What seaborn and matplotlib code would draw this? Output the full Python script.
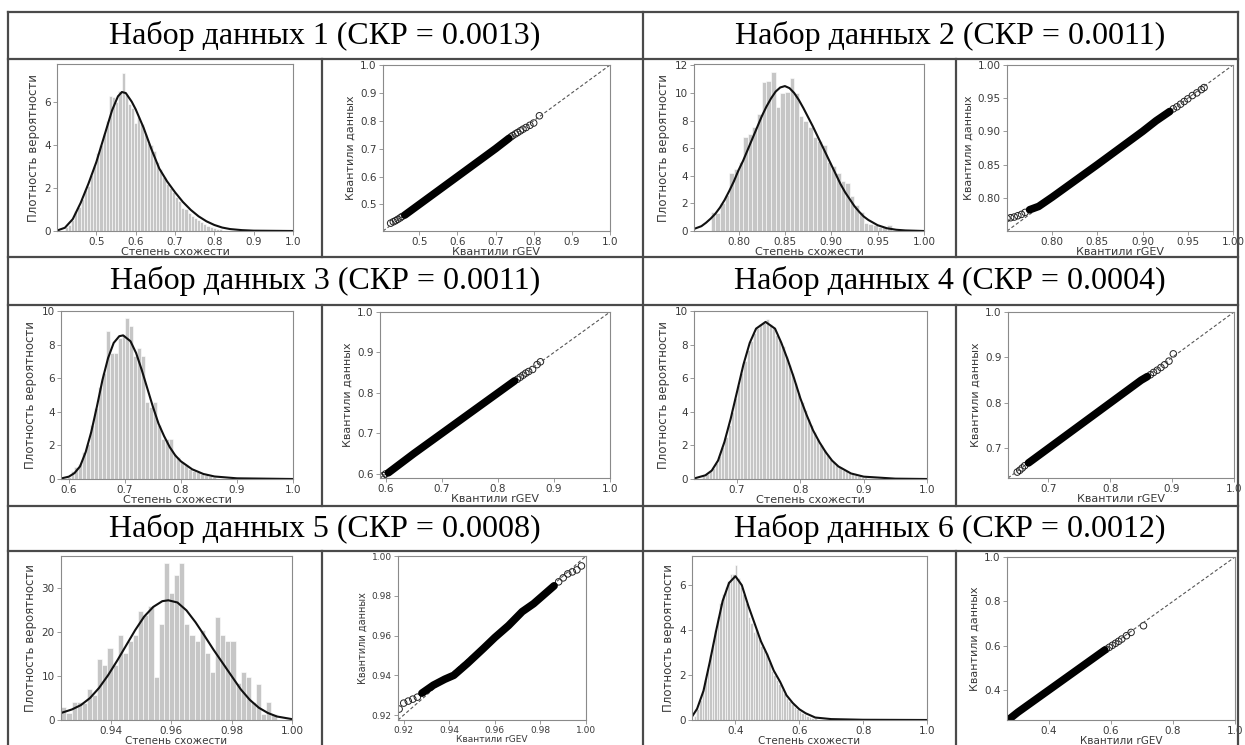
import numpy as np
import pandas as pd
import matplotlib
matplotlib.use("Agg")
import matplotlib.pyplot as plt
from matplotlib.lines import Line2D
import seaborn as sns

W, H = 1245, 745

# --- header texts ---
titles = ["Набор данных 1 (СКР = 0.0013)", "Набор данных 2 (СКР = 0.0011)",
          "Набор данных 3 (СКР = 0.0011)", "Набор данных 4 (СКР = 0.0004)",
          "Набор данных 5 (СКР = 0.0008)", "Набор данных 6 (СКР = 0.0012)"]

# --- histograms: first bin edge, bin width, bar heights ---
h1_start, h1_width = 0.42, 0.008
h1_heights = [0.2, 0.3, 0.5, 0.95, 1.1, 1.5, 1.9, 2.1, 2.6, 3.0, 3.6, 4.0, 4.5, 5.1, 6.25,
              6.2, 6.0, 6.5, 7.35, 6.3, 5.9, 5.7, 5.0, 5.3, 4.95, 4.5, 4.1, 4.0, 3.7, 3.2,
              2.9, 2.5, 2.2, 2.0, 1.8, 1.6, 1.4, 1.05, 1.0, 0.85, 0.7, 0.6, 0.5, 0.4, 0.33,
              0.25, 0.2, 0.15, 0.1, 0.08]
h2_start, h2_width = 0.770, 0.005
h2_heights = [1.4, 1.3, 2.0, 2.6, 4.2, 4.5, 5.0, 6.8, 7.0, 7.5, 8.5, 10.8, 10.9, 11.5, 9.0,
              10.0, 10.1, 11.1, 10.0, 8.3, 8.0, 7.5, 6.8, 6.5, 6.2, 5.0, 4.7, 4.2, 3.6, 3.5,
              2.5, 1.9, 1.4, 0.6, 0.5, 0.4, 0.3, 0.3, 0.45, 0.1]
h3_start, h3_width = 0.596, 0.007
h3_heights = [0.1, 0.5, 0.7, 0.9, 1.6, 2.1, 3.2, 4.2, 5.5, 6.3, 8.8, 7.5, 7.5, 8.4, 8.6,
              9.6, 9.1, 7.3, 7.8, 7.3, 4.6, 4.3, 4.6, 3.2, 2.4, 2.4, 2.4, 1.5, 1.3, 1.0,
              0.85, 0.6, 0.5, 0.4, 0.3, 0.25, 0.2, 0.1]
h4_start, h4_width = 0.645, 0.005
h4_heights = [0.2, 0.3, 0.45, 0.65, 0.95, 1.35, 1.9, 2.5, 3.2, 4.0, 4.8, 5.6, 6.3, 7.0, 7.7,
              8.2, 8.7, 9.0, 9.25, 9.3, 9.5, 9.2, 9.0, 8.6, 8.3, 7.9, 7.3, 6.8, 6.3, 5.7,
              5.1, 4.6, 4.1, 3.6, 3.2, 2.8, 2.4, 2.0, 1.75, 1.45, 1.2, 1.0, 0.85, 0.7, 0.55,
              0.45, 0.35, 0.3, 0.25, 0.18, 0.14, 0.1, 0.08, 0.05, 0.04]
h5_start, h5_width = 0.9235, 0.0017
h5_heights = [2.9, 1.7, 4.2, 4.2, 3.8, 7.0, 5.8, 13.8, 12.5, 16.5, 12.6, 19.3, 15.3, 18.0,
              19.3, 24.8, 24.0, 26.0, 9.8, 22.0, 35.8, 29.0, 33.0, 35.8, 22.0, 19.3, 18.0,
              20.6, 15.2, 11.0, 23.4, 19.3, 18.0, 18.0, 8.5, 11.0, 9.7, 4.2, 8.3, 1.4, 4.2,
              1.4]
h6_start, h6_width = 0.270, 0.008
h6_heights = [0.2, 0.5, 0.9, 1.3, 1.8, 2.3, 2.9, 3.4, 4.0, 4.6, 5.2, 5.6, 5.9, 6.2, 6.5,
              6.5, 6.9, 6.3, 5.9, 5.6, 5.2, 4.6, 4.3, 3.9, 4.0, 3.6, 3.3, 3.1, 3.0, 2.6,
              2.2, 2.0, 1.8, 1.6, 1.4, 1.2, 1.0, 0.85, 0.7, 0.6, 0.5, 0.4, 0.3, 0.25, 0.2,
              0.15, 0.1, 0.08]

# --- fitted rGEV density curves ---
c1_x = [0.40, 0.42, 0.44, 0.46, 0.48, 0.50, 0.52, 0.54, 0.555, 0.565, 0.575, 0.59, 0.60, 0.62,
        0.64, 0.66, 0.68, 0.70, 0.72, 0.74, 0.76, 0.78, 0.80, 0.82, 0.84, 0.87, 0.90, 1.00]
c1_y = [0.02, 0.15, 0.55, 1.3, 2.2, 3.2, 4.4, 5.6, 6.25, 6.45, 6.4, 6.0, 5.65, 4.8, 3.8, 2.9,
        2.3, 1.8, 1.35, 0.98, 0.68, 0.45, 0.28, 0.16, 0.09, 0.04, 0.015, 0.0]
c2_x = [0.752, 0.76, 0.765, 0.77, 0.775, 0.78, 0.785, 0.79, 0.795, 0.80, 0.805, 0.81, 0.815,
        0.82, 0.825, 0.83, 0.835, 0.84, 0.845, 0.85, 0.855, 0.86, 0.865, 0.87, 0.875, 0.88,
        0.885, 0.89, 0.895, 0.90, 0.905, 0.91, 0.915, 0.92, 0.925, 0.93, 0.935, 0.94, 0.95,
        0.96, 0.97, 0.98, 1.00]
c2_y = [0.15, 0.35, 0.6, 0.9, 1.25, 1.7, 2.25, 2.9, 3.6, 4.4, 5.1, 5.9, 6.7, 7.5, 8.3, 9.0,
        9.6, 10.1, 10.4, 10.5, 10.35, 10.0, 9.5, 8.9, 8.25, 7.6, 6.9, 6.2, 5.5, 4.8, 4.1, 3.4,
        2.8, 2.3, 1.8, 1.4, 1.05, 0.8, 0.42, 0.2, 0.09, 0.04, 0.0]
c3_x = [0.586, 0.60, 0.61, 0.62, 0.63, 0.64, 0.65, 0.66, 0.67, 0.68, 0.69, 0.697, 0.71, 0.72,
        0.73, 0.74, 0.75, 0.76, 0.77, 0.78, 0.79, 0.80, 0.82, 0.84, 0.86, 0.90, 1.00]
c3_y = [0.03, 0.14, 0.35, 0.75, 1.6, 2.8, 4.3, 5.9, 7.2, 8.1, 8.5, 8.55, 8.2, 7.5, 6.5, 5.4,
        4.3, 3.3, 2.55, 1.9, 1.4, 1.05, 0.58, 0.3, 0.15, 0.04, 0.0]
c4_x = [0.632, 0.65, 0.66, 0.67, 0.68, 0.69, 0.70, 0.71, 0.72, 0.73, 0.745, 0.76, 0.77, 0.78,
        0.79, 0.80, 0.81, 0.82, 0.83, 0.84, 0.85, 0.86, 0.88, 0.90, 0.95, 1.00]
c4_y = [0.03, 0.22, 0.5, 1.1, 2.2, 3.6, 5.2, 6.8, 8.1, 8.95, 9.35, 8.95, 8.1, 7.1, 6.0, 4.8,
        3.8, 2.9, 2.2, 1.6, 1.1, 0.75, 0.33, 0.14, 0.02, 0.0]
c5_x = [0.9234, 0.927, 0.930, 0.933, 0.936, 0.939, 0.942, 0.945, 0.948, 0.951, 0.954, 0.957,
        0.959, 0.962, 0.965, 0.968, 0.971, 0.974, 0.977, 0.980, 0.983, 0.986, 0.989, 0.992,
        0.995, 1.000]
c5_y = [1.6, 2.4, 3.4, 5.0, 7.3, 10.2, 13.5, 17.0, 20.5, 23.6, 25.8, 27.1, 27.3, 26.8, 25.0,
        22.3, 19.2, 16.0, 13.0, 10.0, 7.0, 4.6, 2.8, 1.6, 0.8, 0.2]
c6_x = [0.264, 0.28, 0.30, 0.32, 0.34, 0.36, 0.38, 0.40, 0.42, 0.44, 0.46, 0.48, 0.50, 0.52,
        0.54, 0.56, 0.58, 0.60, 0.62, 0.65, 0.70, 0.80, 1.00]
c6_y = [0.15, 0.5, 1.3, 2.6, 4.0, 5.3, 6.1, 6.4, 6.0, 5.1, 4.3, 3.5, 2.9, 2.2, 1.7, 1.1, 0.75,
        0.48, 0.3, 0.11, 0.04, 0.01, 0.0]

# --- Q-Q plots: dense band and separate tail points (theoretical, data) ---
q1_band_x = [0.462, 0.50, 0.55, 0.60, 0.65, 0.70, 0.735]
q1_band_y = [0.462, 0.50, 0.55, 0.60, 0.65, 0.70, 0.737]
q1_tail_x = [0.425, 0.432, 0.438, 0.444, 0.450, 0.455, 0.740, 0.745, 0.752, 0.758, 0.765,
             0.772, 0.780, 0.790, 0.800, 0.815]
q1_tail_y = [0.433, 0.438, 0.442, 0.447, 0.452, 0.457, 0.742, 0.747, 0.753, 0.758, 0.764,
             0.770, 0.776, 0.784, 0.792, 0.818]
q2_band_x = [0.775, 0.785, 0.80, 0.85, 0.90, 0.915, 0.93]
q2_band_y = [0.782, 0.787, 0.801, 0.85, 0.90, 0.916, 0.93]
q2_tail_x = [0.750, 0.754, 0.758, 0.762, 0.766, 0.770, 0.934, 0.938, 0.942, 0.946, 0.950,
             0.955, 0.960, 0.965, 0.968]
q2_tail_y = [0.769, 0.770, 0.771, 0.773, 0.775, 0.778, 0.934, 0.937, 0.941, 0.945, 0.949,
             0.954, 0.958, 0.963, 0.966]
q3_band_x = [0.605, 0.65, 0.70, 0.75, 0.80, 0.83]
q3_band_y = [0.603, 0.65, 0.70, 0.75, 0.80, 0.83]
q3_tail_x = [0.592, 0.596, 0.600, 0.835, 0.840, 0.845, 0.850, 0.855, 0.862, 0.870, 0.876]
q3_tail_y = [0.592, 0.596, 0.600, 0.834, 0.839, 0.844, 0.849, 0.853, 0.858, 0.870, 0.877]
q4_band_x = [0.668, 0.70, 0.75, 0.80, 0.85, 0.86]
q4_band_y = [0.668, 0.70, 0.75, 0.80, 0.85, 0.858]
q4_tail_x = [0.650, 0.654, 0.658, 0.662, 0.865, 0.870, 0.876, 0.882, 0.888, 0.895, 0.902]
q4_tail_y = [0.648, 0.652, 0.657, 0.662, 0.862, 0.867, 0.872, 0.878, 0.884, 0.892, 0.908]
q5_band_x = [0.928, 0.933, 0.938, 0.942, 0.948, 0.955, 0.960, 0.966, 0.972, 0.977, 0.981, 0.986]
q5_band_y = [0.931, 0.935, 0.938, 0.940, 0.946, 0.9535, 0.959, 0.965, 0.972, 0.976, 0.980, 0.985]
q5_tail_x = [0.918, 0.920, 0.922, 0.924, 0.926, 0.988, 0.990, 0.992, 0.994, 0.996, 0.998]
q5_tail_y = [0.923, 0.926, 0.927, 0.928, 0.929, 0.987, 0.989, 0.991, 0.992, 0.993, 0.995]
q6_band_x = [0.275, 0.30, 0.40, 0.50, 0.58]
q6_band_y = [0.272, 0.30, 0.40, 0.50, 0.58]
q6_tail_x = [0.268, 0.272, 0.585, 0.595, 0.605, 0.615, 0.625, 0.635, 0.650, 0.665, 0.705]
q6_tail_y = [0.268, 0.270, 0.584, 0.593, 0.602, 0.611, 0.620, 0.630, 0.645, 0.660, 0.690]

# axis ranges and ticks for each data set
x_lo = [0.40, 0.752, 0.586, 0.632, 0.9234, 0.264]
y_top = [7.75, 12.1, 10.0, 10.0, 37.4, 7.3]
hist_xticks = [[0.5, 0.6, 0.7, 0.8, 0.9, 1.0], [0.80, 0.85, 0.90, 0.95, 1.00],
               [0.6, 0.7, 0.8, 0.9, 1.0], [0.7, 0.8, 0.9, 1.0],
               [0.94, 0.96, 0.98, 1.00], [0.4, 0.6, 0.8, 1.0]]
hist_yticks = [[0, 2, 4, 6], [0, 2, 4, 6, 8, 10, 12], [0, 2, 4, 6, 8, 10],
               [0, 2, 4, 6, 8, 10], [0, 10, 20, 30], [0, 2, 4, 6]]
qq_lo = [0.405, 0.75, 0.59, 0.635, 0.9175, 0.265]
qq_ticks = [[0.5, 0.6, 0.7, 0.8, 0.9, 1.0], [0.80, 0.85, 0.90, 0.95, 1.00],
            [0.6, 0.7, 0.8, 0.9, 1.0], [0.7, 0.8, 0.9, 1.0],
            [0.92, 0.94, 0.96, 0.98, 1.00], [0.4, 0.6, 0.8, 1.0]]

hists = [(h1_start, h1_width, h1_heights), (h2_start, h2_width, h2_heights),
         (h3_start, h3_width, h3_heights), (h4_start, h4_width, h4_heights),
         (h5_start, h5_width, h5_heights), (h6_start, h6_width, h6_heights)]
curves = [(c1_x, c1_y), (c2_x, c2_y), (c3_x, c3_y), (c4_x, c4_y), (c5_x, c5_y), (c6_x, c6_y)]
qqs = [(q1_band_x, q1_band_y, q1_tail_x, q1_tail_y), (q2_band_x, q2_band_y, q2_tail_x, q2_tail_y),
       (q3_band_x, q3_band_y, q3_tail_x, q3_tail_y), (q4_band_x, q4_band_y, q4_tail_x, q4_tail_y),
       (q5_band_x, q5_band_y, q5_tail_x, q5_tail_y), (q6_band_x, q6_band_y, q6_tail_x, q6_tail_y)]

# pixel boxes (left, right, top, bottom) of the axes
hist_boxes = [(57, 293, 64, 231), (694, 924, 64, 231), (61, 293, 311, 479),
              (694, 927, 311, 479), (61, 292, 556, 720), (692, 927, 556, 720)]
qq_boxes = [(383, 610, 65, 231), (1007, 1233, 65, 231), (380, 610, 312, 478),
            (1008, 1234, 312, 478), (398, 586, 556, 720), (1007, 1235, 557, 720)]

TXT = "#3a3a3a"
SPINE = "#8a8a8a"


def rect(box):
    l, r, t, b = box
    return [l / W, 1 - b / H, (r - l) / W, (b - t) / H]


def style_axes(ax, fs):
    for s in ax.spines.values():
        s.set_color(SPINE)
        s.set_linewidth(0.8)
    ax.tick_params(labelsize=fs, colors=SPINE, labelcolor=TXT, length=3, width=0.6, pad=1.5)


fig = plt.figure(figsize=(W / 100, H / 100), dpi=100)
fig.patch.set_facecolor("white")

for i in range(6):
    last_row = i >= 4
    start, width, heights = hists[i]
    n = len(heights)
    edges = [start + width * k for k in range(n + 1)]
    df = pd.DataFrame({"x": [start + width * (k + 0.5) for k in range(n)], "w": heights})

    ax = fig.add_axes(rect(hist_boxes[i]))
    sns.histplot(data=df, x="x", weights="w", bins=edges, stat="count", ax=ax,
                 color="#c6c6c6", edgecolor="white", linewidth=0.4, alpha=1.0)
    cx, cy = curves[i]
    sns.lineplot(x=cx, y=cy, ax=ax, color="#111111", linewidth=1.5,
                 estimator=None, sort=False)
    ax.set_xlim(x_lo[i], 1.0)
    ax.set_ylim(0, y_top[i])
    ax.set_xticks(hist_xticks[i])
    ax.set_yticks(hist_yticks[i])
    style_axes(ax, 7.5)
    ax.set_xlabel("Степень схожести", fontsize=7.5 if last_row else 8, color=TXT, labelpad=0)
    ax.set_ylabel("Плотность вероятности", fontsize=8.5, color=TXT, labelpad=3)

    bx, by, tx, ty = qqs[i]
    ax = fig.add_axes(rect(qq_boxes[i]))
    lo = qq_lo[i]
    fs = 6.5 if i == 4 else 7.5
    ax.plot([lo, 1.0], [lo, 1.0], linestyle=(0, (3, 2)), color="#555555", linewidth=0.8)
    sns.lineplot(x=bx, y=by, ax=ax, color="black", linewidth=5.5, estimator=None,
                 sort=False, solid_capstyle="round")
    sns.scatterplot(x=tx, y=ty, ax=ax, marker="o", s=22, facecolor="none",
                    edgecolor="#222222", linewidth=0.7)
    ax.set_xlim(lo, 1.0)
    ax.set_ylim(lo, 1.0)
    ax.set_xticks(qq_ticks[i])
    ax.set_yticks(qq_ticks[i])
    style_axes(ax, fs)
    ax.set_xlabel("Квантили rGEV", fontsize=fs + (0 if last_row else 0.5), color=TXT,
                  labelpad=0)
    ax.set_ylabel("Квантили данных", fontsize=fs + 0.5, color=TXT, labelpad=3)

# --- table frame ---
LC = "#4a4a4a"


def hline(y, x0, x1):
    fig.add_artist(Line2D([x0 / W, x1 / W], [1 - y / H, 1 - y / H], color=LC, lw=1.6))


def vline(x, y0, y1):
    fig.add_artist(Line2D([x / W, x / W], [1 - y0 / H, 1 - y1 / H], color=LC, lw=1.6))


L, R, MID = 8, 1238, 643
for y in [12, 59, 257, 305, 506, 551]:
    hline(y, L, R)
vline(L, 12, H + 5)
vline(R, 12, H + 5)
vline(MID, 12, H + 5)
for y0, y1 in [(59, 257), (305, 506), (551, H + 5)]:
    vline(322, y0, y1)
    vline(956, y0, y1)

# --- header titles ---
header_y = [36, 36, 281, 281, 529, 529]
header_x = [325, 950] * 3
for i in range(6):
    fig.text(header_x[i] / W, 1 - header_y[i] / H, titles[i], ha="center", va="center",
             fontsize=23, family="Liberation Serif", color="black")

fig.savefig("out.png", dpi=100)
